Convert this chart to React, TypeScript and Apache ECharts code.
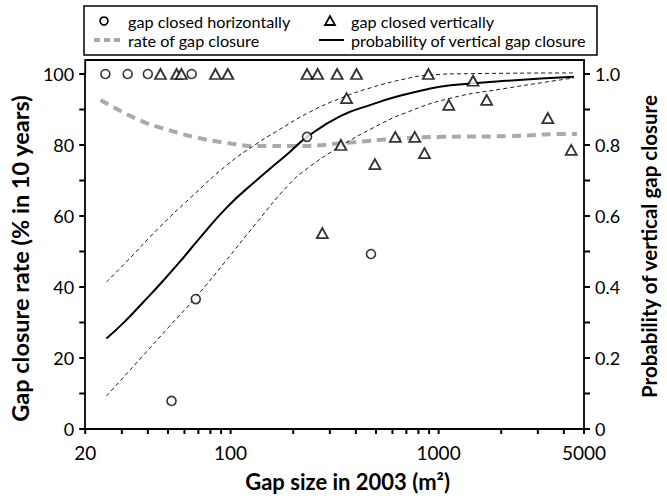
import React, { useEffect, useRef } from "react";
import * as echarts from "echarts";

const FONT = "Lato, 'Open Sans', sans-serif";

// Axis ticks and labels
const xTickValues = [
  20, 30, 40, 50, 60, 70, 80, 90, 100, 200, 300, 400, 500, 600, 700, 800, 900,
  1000, 2000, 3000, 4000, 5000,
];
const xLabelValues = [20, 100, 1000, 5000];
const leftTickValues = [0, 10, 20, 30, 40, 50, 60, 70, 80, 90, 100];
const rightTickValues = [0, 0.1, 0.2, 0.3, 0.4, 0.5, 0.6, 0.7, 0.8, 0.9, 1.0];

// Gaps that closed horizontally (gap size m², closure rate %)
const horizontalSize = [25, 32, 40, 65, 233, 473, 52, 68];
const horizontalRate = [100, 100, 100, 100, 82.3, 49.3, 7.9, 36.6];

// Gaps that closed vertically (gap size m², closure rate %)
const verticalSize = [
  46, 55, 58, 84.5, 97, 233, 262, 325, 403, 893, 361, 1464, 1119, 1702, 3351,
  4340, 339, 619, 768, 855, 494, 276,
];
const verticalRate = [
  100, 100, 100, 100, 100, 100, 100, 100, 100, 100, 93.2, 98.1, 91.3, 92.7,
  87.6, 78.6, 80, 82.3, 82.3, 77.7, 74.6, 55.2,
];

// Fitted rate of gap closure (%)
const rateSize = [23.7, 36.5, 50.5, 70, 96, 133, 204, 390, 600, 1026, 2178, 4026, 4625];
const rateValue = [92.7, 87, 84.2, 82, 80.6, 79.7, 79.7, 80.8, 81.7, 82.3, 82.5, 83.1, 83.1];

// Probability of vertical gap closure with its confidence band
const probSize = [25.3, 30.8, 37.7, 46.8, 58, 69.7, 96.2, 132.9, 189.6, 232.6, 338.8, 483, 619, 893, 1143, 2023, 4480];
const probValue = [0.255, 0.301, 0.355, 0.414, 0.476, 0.532, 0.625, 0.7, 0.777, 0.822, 0.882, 0.915, 0.935, 0.958, 0.968, 0.98, 0.992];
const upperSize = [25.3, 31.8, 45.1, 64.6, 96.2, 132.9, 164.8, 235, 338.8, 483, 689, 893, 1413, 4480];
const upperValue = [0.414, 0.473, 0.566, 0.653, 0.744, 0.803, 0.837, 0.89, 0.932, 0.963, 0.986, 0.997, 1.001, 1.003];
const lowerSize = [25.3, 37.7, 50.4, 68.2, 93.2, 132.9, 189.6, 235, 338.8, 483, 689, 1143, 2023, 4480];
const lowerValue = [0.093, 0.205, 0.287, 0.372, 0.468, 0.58, 0.687, 0.735, 0.797, 0.848, 0.89, 0.932, 0.958, 0.989];

const zip = (xs: number[], ys: number[]) => xs.map((x, i) => [x, ys[i]]);

const axisLineStyle = { color: "#000", width: 1.8 };
const titleFont = { color: "#000", fontWeight: "bold" as const, fontFamily: FONT };
const legendFont = { fill: "#000", fontSize: 16.2, fontFamily: FONT };

// Legend box drawn as graphic elements
const legendGraphics = [
  {
    type: "rect",
    shape: { x: 84, y: 6, width: 513, height: 49 },
    style: { fill: "#fff", stroke: "#000", lineWidth: 1.5 },
  },
  {
    type: "circle",
    shape: { cx: 104, cy: 21, r: 4 },
    style: { fill: "#fff", stroke: "#000", lineWidth: 1.6 },
  },
  {
    type: "text",
    x: 128,
    y: 21,
    style: { text: "gap closed horizontally", verticalAlign: "middle", ...legendFont },
  },
  {
    type: "polygon",
    shape: { points: [[325, 25], [335, 25], [330, 16]] },
    style: { fill: "#fff", stroke: "#000", lineWidth: 1.8 },
  },
  {
    type: "text",
    x: 351,
    y: 21,
    style: { text: "gap closed vertically", verticalAlign: "middle", ...legendFont },
  },
  {
    type: "line",
    shape: { x1: 94, y1: 40, x2: 121, y2: 40 },
    style: { stroke: "#aaaaaa", lineWidth: 4, lineDash: [6, 4] },
  },
  {
    type: "text",
    x: 128,
    y: 40,
    style: { text: "rate of gap closure", verticalAlign: "middle", ...legendFont },
  },
  {
    type: "line",
    shape: { x1: 319, y1: 40, x2: 344, y2: 40 },
    style: { stroke: "#000", lineWidth: 2 },
  },
  {
    type: "text",
    x: 351,
    y: 40,
    style: { text: "probability of vertical gap closure", verticalAlign: "middle", ...legendFont },
  },
];

export default function App() {
  const ref = useRef<HTMLDivElement>(null);

  useEffect(() => {
    if (!ref.current) return;
    const chart = echarts.init(ref.current, null, { renderer: "svg" });

    const markerStyle = { color: "#fff", borderColor: "#000", borderWidth: 1.6 };
    const bandLine = { color: "#000", width: 0.9, type: [4, 3] };

    chart.setOption({
      animation: false,
      backgroundColor: "#fff",
      grid: { left: 84, right: 70, top: 74, bottom: 69 },
      xAxis: {
        type: "log",
        logBase: 10,
        min: 20,
        max: 5000,
        axisLine: { show: true, onZero: false, lineStyle: axisLineStyle },
        axisTick: { show: false },
        axisLabel: {
          show: true,
          customValues: xLabelValues,
          margin: 14,
          formatter: (v: number) => String(Math.round(v)),
          color: "#000",
          fontSize: 19,
          fontFamily: FONT,
        },
        splitLine: { show: false },
        minorTick: { show: false },
        name: "Gap size in 2003 (m²)",
        nameLocation: "middle",
        nameGap: 41,
        nameTextStyle: { ...titleFont, fontSize: 22, padding: [0, 0, 0, 26] },
      },
      yAxis: [
        {
          type: "value",
          min: 0,
          max: 100,
          interval: 20,
          position: "left",
          axisLine: { show: true, onZero: false, lineStyle: axisLineStyle },
          axisTick: { show: false },
          axisLabel: { margin: 11, color: "#000", fontSize: 18, fontFamily: FONT },
          splitLine: { show: false },
          name: "Gap closure rate (% in 10 years)",
          nameLocation: "middle",
          nameRotate: 90,
          nameGap: 35,
          nameTextStyle: { ...titleFont, fontSize: 23.5, padding: [0, 14, 0, 0] },
        },
        {
          type: "value",
          min: 0,
          max: 1,
          interval: 0.2,
          position: "right",
          axisLine: { show: true, onZero: false, lineStyle: axisLineStyle },
          axisTick: { show: false },
          axisLabel: {
            margin: 11,
            color: "#000",
            fontSize: 18,
            fontFamily: FONT,
            formatter: (v: number) => {
              const r = Math.round(v * 10) / 10;
              return r === 0 ? "0" : r.toFixed(1);
            },
          },
          splitLine: { show: false },
          name: "Probability of vertical gap closure",
          nameLocation: "middle",
          nameRotate: 90,
          nameGap: 54,
          nameTextStyle: { ...titleFont, fontSize: 20.5, padding: [0, 0, 0, 10] },
        },
      ],
      series: [
        {
          name: "rate of gap closure",
          type: "line",
          yAxisIndex: 0,
          data: zip(rateSize, rateValue),
          smooth: true,
          symbol: "none",
          lineStyle: { color: "#aaaaaa", width: 4, type: [9, 6] },
          z: 2,
        },
        {
          name: "upper bound",
          type: "line",
          yAxisIndex: 1,
          data: zip(upperSize, upperValue),
          smooth: true,
          symbol: "none",
          lineStyle: bandLine,
          clip: false,
          z: 2,
        },
        {
          name: "lower bound",
          type: "line",
          yAxisIndex: 1,
          data: zip(lowerSize, lowerValue),
          smooth: true,
          symbol: "none",
          lineStyle: bandLine,
          z: 2,
        },
        {
          name: "probability of vertical gap closure",
          type: "line",
          yAxisIndex: 1,
          data: zip(probSize, probValue),
          smooth: true,
          symbol: "none",
          lineStyle: { color: "#000", width: 2 },
          z: 3,
        },
        {
          name: "gap closed vertically",
          type: "scatter",
          yAxisIndex: 0,
          data: zip(verticalSize, verticalRate),
          symbol: "triangle",
          symbolSize: [11, 10],
          itemStyle: { ...markerStyle, borderWidth: 1.8 },
          clip: false,
          z: 4,
        },
        {
          name: "gap closed horizontally",
          type: "scatter",
          yAxisIndex: 0,
          data: zip(horizontalSize, horizontalRate),
          symbol: "circle",
          symbolSize: 9,
          itemStyle: markerStyle,
          clip: false,
          z: 5,
        },
      ],
    });

    // Outward tick marks, positioned by the axes' own scales
    const tickLine = (x1: number, y1: number, x2: number, y2: number) => ({
      type: "line",
      silent: true,
      z: 10,
      shape: { x1, y1, x2, y2 },
      style: { stroke: "#000", lineWidth: 2 },
    });
    const left = { xAxisIndex: 0, yAxisIndex: 0 };
    const right = { xAxisIndex: 0, yAxisIndex: 1 };
    const ticks: any[] = [];
    xTickValues.forEach((v) => {
      const [px, py] = chart.convertToPixel(left, [v, 0]) as number[];
      ticks.push(tickLine(px, py, px, py + 5));
    });
    leftTickValues.forEach((v) => {
      const [px, py] = chart.convertToPixel(left, [20, v]) as number[];
      ticks.push(tickLine(px, py, px - 6, py));
    });
    rightTickValues.forEach((v) => {
      const [px, py] = chart.convertToPixel(right, [5000, v]) as number[];
      ticks.push(tickLine(px, py, px + 6, py));
    });

    // Top edge of the plot frame, a little above the 100 % line
    const [fx0, fy0] = chart.convertToPixel(left, [20, 100]) as number[];
    const [fx1] = chart.convertToPixel(left, [5000, 100]) as number[];
    const frameTop = {
      type: "polyline",
      silent: true,
      shape: { points: [[fx0, fy0], [fx0, fy0 - 14], [fx1, fy0 - 14], [fx1, fy0]] },
      style: { fill: "none", stroke: "#000", lineWidth: 1.8 },
    };

    chart.setOption({ graphic: [frameTop, ...ticks, ...legendGraphics] });

    return () => chart.dispose();
  }, []);

  return <div ref={ref} style={{ width: 667, height: 498, position: "absolute", left: 0, top: 0 }} />;
}
